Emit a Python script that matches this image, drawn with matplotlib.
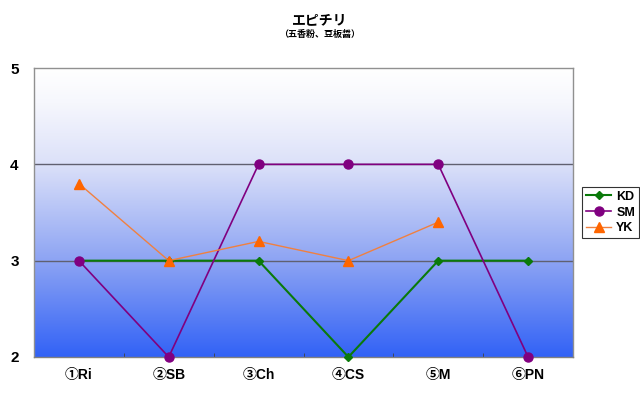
import numpy as np
import matplotlib
matplotlib.use('Agg')
import matplotlib.pyplot as plt
from matplotlib.colors import LinearSegmentedColormap

plt.rcParams['font.family'] = ['Liberation Sans', 'Noto Sans CJK JP', 'DejaVu Sans']

cats = ['①Ri', '②SB', '③Ch', '④CS', '⑤M', '⑥PN']
kd = [3, 3, 3, 2, 3, 3]
sm = [3, 2, 4, 4, 4, 2]
yk = [3.8, 3.0, 3.2, 3.0, 3.4, np.nan]

fig = plt.figure(figsize=(6.4, 3.98), dpi=100)
ax = fig.add_axes([34/640, 1-357/398, 539/640, 289/398])

# background gradient: white at top to blue at bottom
cmap = LinearSegmentedColormap.from_list('bg', [(0, '#ffffff'), (0.12, '#f6f7fd'),
                                                (0.33, '#dce1f9'), (0.67, '#8ca3f3'),
                                                (1, '#3262f6')])
grad = np.linspace(0, 1, 256).reshape(-1, 1)
ax.imshow(grad, aspect='auto', cmap=cmap, extent=[-0.5, 5.5, 2, 5], zorder=0)

x = np.arange(len(cats))
for yv in [3, 4]:
    ax.axhline(yv, color='#606070', lw=1, zorder=1)

ax.plot(x, kd, color='#0a7a0a', lw=1.5, marker='D', ms=4.5, label='KD', zorder=3, clip_on=False)
ax.plot(x, sm, color='#800080', lw=1.2, marker='o', ms=6.5, label='SM', zorder=4, clip_on=False)
ax.plot(x, yk, color='#f08040', lw=1, marker='^', ms=6.5, mfc='#ff6600', mec='#ff6600',
        label='YK', zorder=5, clip_on=False)

ax.set_xlim(-0.5, 5.5)
ax.set_ylim(2, 5)
ax.set_yticks([2, 3, 4, 5])
ax.set_yticklabels(['2', '3', '4', '5'], fontsize=11, fontweight='bold')
ax.set_xticks(x)
ax.set_xticklabels(cats, fontsize=10, fontweight='bold')
ax.tick_params(axis='x', length=0, pad=8)
ax.tick_params(axis='y', length=0, pad=11)
ax.set_xticks(np.arange(0.5, 5, 1), minor=True)
ax.tick_params(axis='x', which='minor', direction='in', length=3, color='#404040')
for s in ax.spines.values():
    s.set_color('#909090')
    s.set_linewidth(1)
ax.spines['bottom'].set_color('#808080')

leg = ax.legend(loc='center left', bbox_to_anchor=(1.006, 0.5), frameon=True,
                fancybox=False, edgecolor='black', fontsize=9, handlelength=2,
                borderpad=0.3, labelspacing=0.3, handletextpad=0.4)
leg.get_frame().set_linewidth(0.8)
for t in leg.get_texts():
    t.set_fontweight('bold')

fig.text(0.5, 1-20/398, 'エピチリ', ha='center', va='center', fontsize=10,
         fontweight='bold', family=['Noto Sans CJK JP'])
fig.text(0.5, 1-34/398, '（五香粉、豆板醤）', ha='center', va='center', fontsize=6.5,
         fontweight='bold', family=['Noto Sans CJK JP'])

fig.savefig('out.png', dpi=100)
